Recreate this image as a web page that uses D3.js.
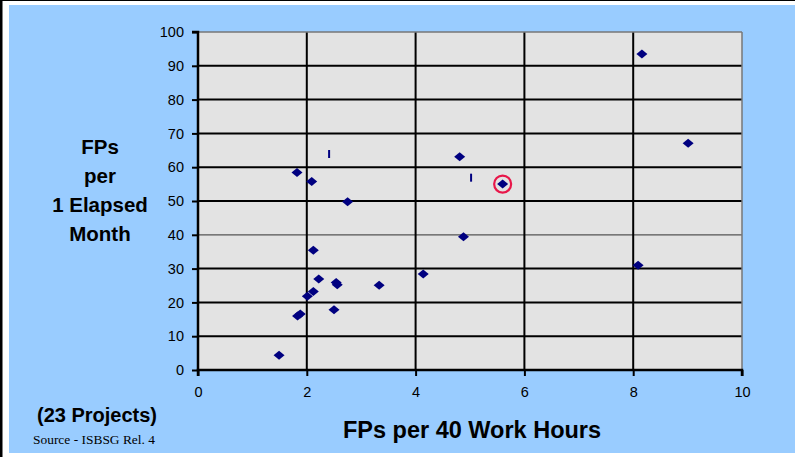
<!DOCTYPE html>
<html><head><meta charset="utf-8">
<script src="https://cdn.jsdelivr.net/npm/d3@7"></script>
<style>body{margin:0;background:#fff}svg{display:block}</style>
</head><body>
<script>
const xValues = [8.16, 9.01, 4.81, 5.60, 1.82, 2.09, 2.75, 4.88, 2.12, 8.09, 2.22, 2.54, 2.56, 3.33, 4.14, 2.12, 2.01, 2.50, 1.88, 1.83, 1.49];
const yValues = [93.5, 67.1, 63.1, 55.0, 58.4, 55.8, 49.8, 39.4, 35.4, 31.0, 26.9, 25.9, 25.2, 25.1, 28.4, 23.2, 21.8, 17.8, 16.6, 16.0, 4.4];
const xMarks = [2.41, 5.02];
const yMarks = [63.9, 56.9];
const highlightX = [5.60];
const highlightY = [55.0];
const xTicks = [0, 2, 4, 6, 8, 10];
const yTicks = [0, 10, 20, 30, 40, 50, 60, 70, 80, 90, 100];
const yTitle = ["FPs", "per", "1 Elapsed", "Month"];
const xTitle = "FPs per 40 Work Hours";

const W = 795, H = 457;
const svg = d3.select("body").append("svg").attr("width", W).attr("height", H);
svg.append("rect").attr("x",0).attr("y",0).attr("width",W).attr("height",H).attr("fill","#fff");
svg.append("rect").attr("x",9).attr("y",5).attr("width",W-9).attr("height",448).attr("fill","#99CCFF");
svg.append("rect").attr("x",0).attr("y",0).attr("width",2.5).attr("height",H).attr("fill","#000");
svg.append("rect").attr("x",0).attr("y",0).attr("width",W).attr("height",1).attr("fill","#000");

const L = 198, R = 742, T = 32, B = 370;
const x = d3.scaleLinear().domain([0,10]).range([L,R]);
const y = d3.scaleLinear().domain([0,100]).range([B,T]);

svg.append("rect").attr("x",L).attr("y",T).attr("width",R-L).attr("height",B-T).attr("fill","#E3E3E3");

// grid
const g = svg.append("g");
g.selectAll("line.h").data(yTicks.filter(d=>d>0 && d<100)).join("line")
  .attr("x1",L).attr("x2",R).attr("y1",d=>y(d)).attr("y2",d=>y(d))
  .attr("stroke", d=> d===40 ? "#555" : "#000").attr("stroke-width", d=> d===40 ? 1.2 : 2);
g.selectAll("line.v").data(xTicks.filter(d=>d>0 && d<10)).join("line")
  .attr("y1",T).attr("y2",B).attr("x1",d=>x(d)).attr("x2",d=>x(d))
  .attr("stroke","#000").attr("stroke-width",2);
svg.append("line").attr("x1",L).attr("x2",R).attr("y1",T).attr("y2",T).attr("stroke","#777").attr("stroke-width",1.5);
svg.append("line").attr("x1",R).attr("x2",R).attr("y1",T).attr("y2",B).attr("stroke","#777").attr("stroke-width",1.5);

// axes
const yAxis = d3.axisLeft(y).tickValues(yTicks).tickSize(6).tickPadding(8);
const ya = svg.append("g").attr("transform",`translate(${L},0)`).call(yAxis);
const xAxis = d3.axisBottom(x).tickValues(xTicks).tickSize(6).tickPadding(6);
const xa = svg.append("g").attr("transform",`translate(0,${B})`).call(xAxis);
[ya, xa].forEach(a => {
  a.select(".domain").attr("stroke","#000").attr("stroke-width",2.5);
  a.selectAll(".tick line").attr("stroke","#000").attr("stroke-width",2);
  a.selectAll(".tick text").attr("font-family","Liberation Sans, Arial, sans-serif").attr("font-size",14.5).attr("fill","#000");
});
ya.select(".domain").attr("d", `M-6,${T}H0V${B}`);
xa.select(".domain").attr("d", `M${L},6V0H${R}V6`);
xa.selectAll(".tick text").attr("dy","1.05em");

// points: wide diamond
const diamondPath = "M-5.5,0L0,-4.5L5.5,0L0,4.5Z";
svg.append("g").selectAll("path").data(xValues.map((v,i)=>[v,yValues[i]])).join("path")
  .attr("d", diamondPath)
  .attr("transform", d=>`translate(${x(d[0])},${y(d[1])})`)
  .attr("fill","#000080");
svg.append("g").selectAll("line").data(xMarks.map((v,i)=>[v,yMarks[i]])).join("line")
  .attr("x1",d=>x(d[0])).attr("x2",d=>x(d[0]))
  .attr("y1",d=>y(d[1])-4).attr("y2",d=>y(d[1])+4)
  .attr("stroke","#000080").attr("stroke-width",2);
svg.append("g").selectAll("circle").data(highlightX.map((v,i)=>[v,highlightY[i]])).join("circle")
  .attr("cx",d=>x(d[0])).attr("cy",d=>y(d[1])).attr("r",8.5)
  .attr("fill","none").attr("stroke","#E8174A").attr("stroke-width",2.2);

// titles
const yt = svg.append("text").attr("text-anchor","middle")
  .attr("font-family","Liberation Sans, Arial, sans-serif").attr("font-weight","bold").attr("font-size",20.5).attr("fill","#000");
yTitle.forEach((t,i)=> yt.append("tspan").attr("x",100).attr("y",154 + i*29).text(t));
svg.append("text").attr("x",472).attr("y",438).attr("text-anchor","middle")
  .attr("font-family","Liberation Sans, Arial, sans-serif").attr("font-weight","bold").attr("font-size",23.5).text(xTitle);
svg.append("text").attr("x",97).attr("y",422).attr("text-anchor","middle")
  .attr("font-family","Liberation Sans, Arial, sans-serif").attr("font-weight","bold").attr("font-size",20).text("(23 Projects)");
svg.append("text").attr("x",33).attr("y",444)
  .attr("font-family","Liberation Serif, Times New Roman, serif").attr("font-size",13)
  .attr("textLength",122).attr("lengthAdjust","spacingAndGlyphs").text("Source - ISBSG Rel. 4");
</script>
</body></html>
